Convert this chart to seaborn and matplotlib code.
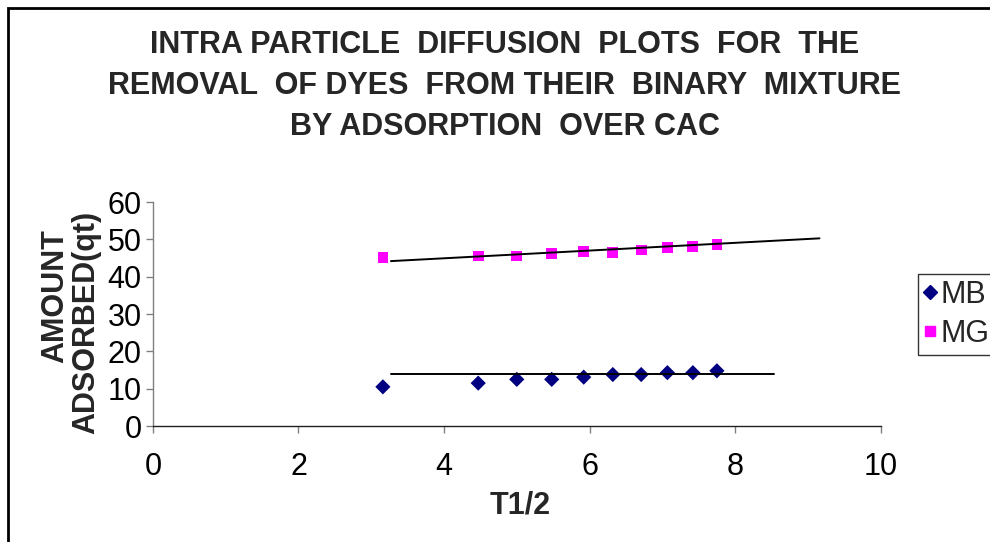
import matplotlib
matplotlib.use("Agg")
import matplotlib.pyplot as plt
from matplotlib.lines import Line2D
from matplotlib.patches import Rectangle
import pandas as pd
import seaborn as sns

# ── data ─────────────────────────────────────────────────────────────────
t_half = [3.16, 4.47, 5.00, 5.48, 5.92, 6.32, 6.71, 7.07, 7.42, 7.75]
qt_mb = [10.5, 11.5, 12.5, 12.5, 13.1, 13.8, 13.8, 14.3, 14.3, 14.8]
qt_mg = [45.2, 45.6, 45.6, 46.2, 46.7, 46.6, 47.2, 47.8, 48.2, 48.7]

# drawn trend lines (start / end)
trend_mb_x = [3.27, 8.53]
trend_mb_y = [14.0, 14.0]
trend_mg_x = [3.27, 9.16]
trend_mg_y = [44.2, 50.3]

series = ["MB", "MG"]
colors = {"MB": "#000080", "MG": "#FF00FF"}
markers = {"MB": "D", "MG": "s"}

title = ("INTRA PARTICLE  DIFFUSION  PLOTS  FOR  THE\n"
         "REMOVAL  OF DYES  FROM THEIR  BINARY  MIXTURE\n"
         "BY ADSORPTION  OVER CAC")

df = pd.DataFrame({
    "t": t_half * 2,
    "qt": qt_mb + qt_mg,
    "dye": ["MB"] * len(qt_mb) + ["MG"] * len(qt_mg),
})
trend = pd.DataFrame({
    "t": trend_mb_x + trend_mg_x,
    "qt": trend_mb_y + trend_mg_y,
    "dye": ["MB", "MB", "MG", "MG"],
})

sns.set_theme(style="white")
plt.rcParams["font.family"] = ["Liberation Sans", "DejaVu Sans"]

fig = plt.figure(figsize=(9.9, 5.42), dpi=100)
ax = fig.add_axes([0.1545, 0.214, 0.735, 0.413])

sns.lineplot(data=trend, x="t", y="qt", units="dye", estimator=None,
             color="black", lw=1.4, legend=False, ax=ax)
sns.scatterplot(data=df, x="t", y="qt", hue="dye", style="dye",
                palette=colors, markers=markers, s=75, linewidth=0,
                legend=False, ax=ax)
# MB diamonds a little smaller
for coll, dye in zip(ax.collections, series):
    if dye == "MB":
        coll.set_sizes([60])

ax.set_xlim(0, 10)
ax.set_ylim(0, 60)
ax.set_xticks(range(0, 11, 2))
ax.set_yticks(range(0, 61, 10))
ax.set_xlabel("")
ax.set_ylabel("")
for s in ["top", "right"]:
    ax.spines[s].set_visible(False)
ax.spines["left"].set_color("#808080")
ax.spines["bottom"].set_color("#202020")
ax.spines["left"].set_linewidth(1.0)
ax.spines["bottom"].set_linewidth(1.0)
ax.tick_params(axis="both", direction="out", length=5, width=1,
               color="#808080", labelsize=22, labelcolor="black")
ax.tick_params(axis="x", pad=14, bottom=True)
ax.tick_params(axis="y", pad=3, left=True)

fig.text(0.51, 1 - 86 / 542, title, ha="center", va="center", fontsize=22,
         fontweight="bold", linespacing=1.49)
fig.text(0.525, 1 - 505 / 542, "T1/2", ha="center", va="center",
         fontsize=22, fontweight="bold")
fig.text(55 / 990, 1 - 296 / 542, "AMOUNT", ha="center", va="center",
         rotation=90, fontsize=22, fontweight="bold")
fig.text(86 / 990, 1 - 322 / 542, "ADSORBED(qt)", ha="center", va="center",
         rotation=90, fontsize=22, fontweight="bold")

handles = [Line2D([], [], ls="none", marker=markers[d], color=colors[d],
                  markersize=7 if d == "MB" else 7.5) for d in series]
leg = fig.legend(handles, series, loc="upper left",
                 bbox_to_anchor=(918 / 990, 1 - 274 / 542), frameon=True,
                 fontsize=22, handlelength=0.4, handletextpad=0.15,
                 borderpad=0.2, labelspacing=0.28, borderaxespad=0,
                 fancybox=False)
leg.get_frame().set_edgecolor("black")
leg.get_frame().set_linewidth(1.0)

# outer chart border (clipped at right and bottom, as in the original)
fig.patches.append(Rectangle((8 / 990, -0.05), 1.2, 1 - 8 / 542 + 0.05,
                             transform=fig.transFigure, fill=False,
                             edgecolor="black", lw=2, zorder=0))

fig.savefig("out.png", dpi=100)
